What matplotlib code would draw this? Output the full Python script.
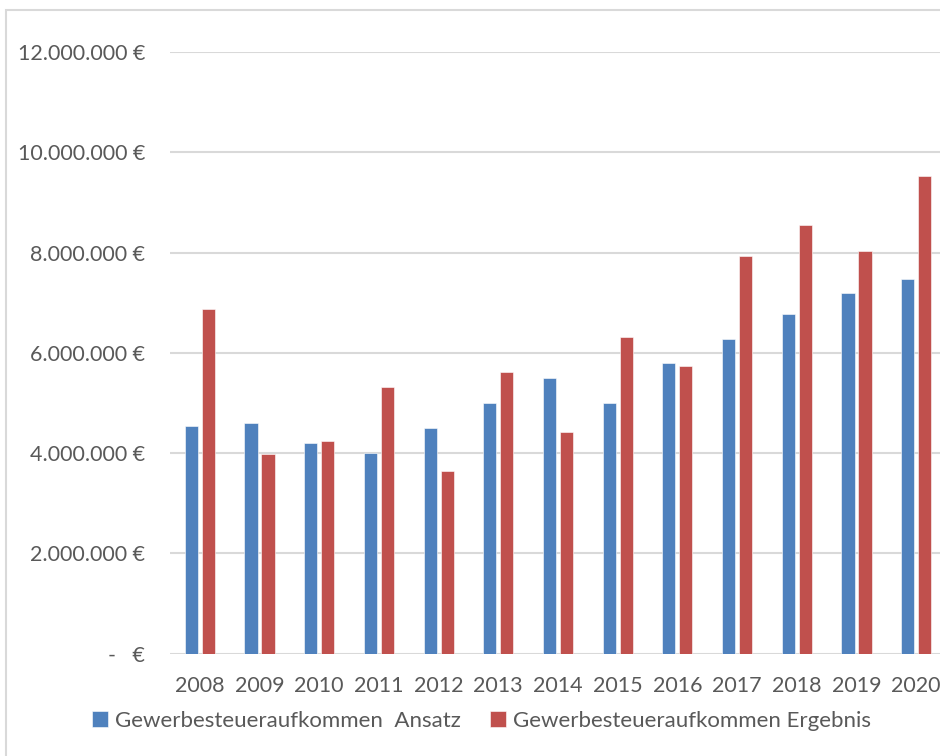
import matplotlib.pyplot as plt
from matplotlib.patches import Rectangle
import numpy as np

years = ['2008', '2009', '2010', '2011', '2012', '2013', '2014',
         '2015', '2016', '2017', '2018', '2019', '2020']
ansatz = [4.55, 4.6, 4.2, 4.0, 4.5, 5.0, 5.5, 5.0, 5.8, 6.28, 6.78, 7.2, 7.48]
ergebnis = [6.87, 3.98, 4.24, 5.32, 3.65, 5.61, 4.43, 6.31, 5.74, 7.94, 8.55, 8.04, 9.53]
ansatz = [v * 1e6 for v in ansatz]
ergebnis = [v * 1e6 for v in ergebnis]
yticks = [0, 2e6, 4e6, 6e6, 8e6, 10e6, 12e6]
ylabels = ['-   €', '2.000.000 €', '4.000.000 €', '6.000.000 €',
           '8.000.000 €', '10.000.000 €', '12.000.000 €']

plt.rcParams['font.family'] = ['Lato', 'DejaVu Sans']
txt = '#595959'

fig = plt.figure(figsize=(9.4, 7.56), dpi=100)
W, H = 940, 756
# axes runs past the right edge, like the cropped original
ax = fig.add_axes([170 / W, 1 - 653.7 / H, 776 / W, (653.7 - 52) / H])

x = np.arange(len(years))
w = 0.22
ax.bar(x - 0.142, ansatz, w, color='#4F81BD', edgecolor='white', linewidth=0.4,
       label='Gewerbesteueraufkommen  Ansatz', zorder=3)
ax.bar(x + 0.142, ergebnis, w, color='#C0504D', edgecolor='white', linewidth=0.4,
       label='Gewerbesteueraufkommen Ergebnis', zorder=3)

ax.set_xlim(-0.5, len(years) - 0.5)
ax.set_ylim(0, 12e6)
ax.set_yticks(yticks)
ax.set_yticklabels(ylabels)
ax.set_xticks(x)
ax.set_xticklabels(years)
ax.tick_params(length=0, labelsize=15.5, colors=txt)
ax.tick_params(axis='y', pad=18)
ax.tick_params(axis='x', pad=16)
ax.grid(axis='y', color='#d9d9d9', linewidth=1.5, zorder=0)
for s in ['top', 'right', 'left', 'bottom']:
    ax.spines[s].set_visible(False)
ax.set_axisbelow(True)

fig.legend(loc='center left', bbox_to_anchor=(92 / W, 1 - 721 / H), ncol=2,
           frameon=False, fontsize=16, labelcolor=txt, handlelength=0.7,
           handleheight=0.7, handletextpad=0.35, columnspacing=1.3,
           borderaxespad=0, borderpad=0)

fig.patches.append(Rectangle((5.5 / W, -0.1), 1.2, 1.1 - 9.5 / H,
                             transform=fig.transFigure, fill=False,
                             edgecolor='#d9d9d9', linewidth=1.5))

fig.savefig('out.png', dpi=100)
